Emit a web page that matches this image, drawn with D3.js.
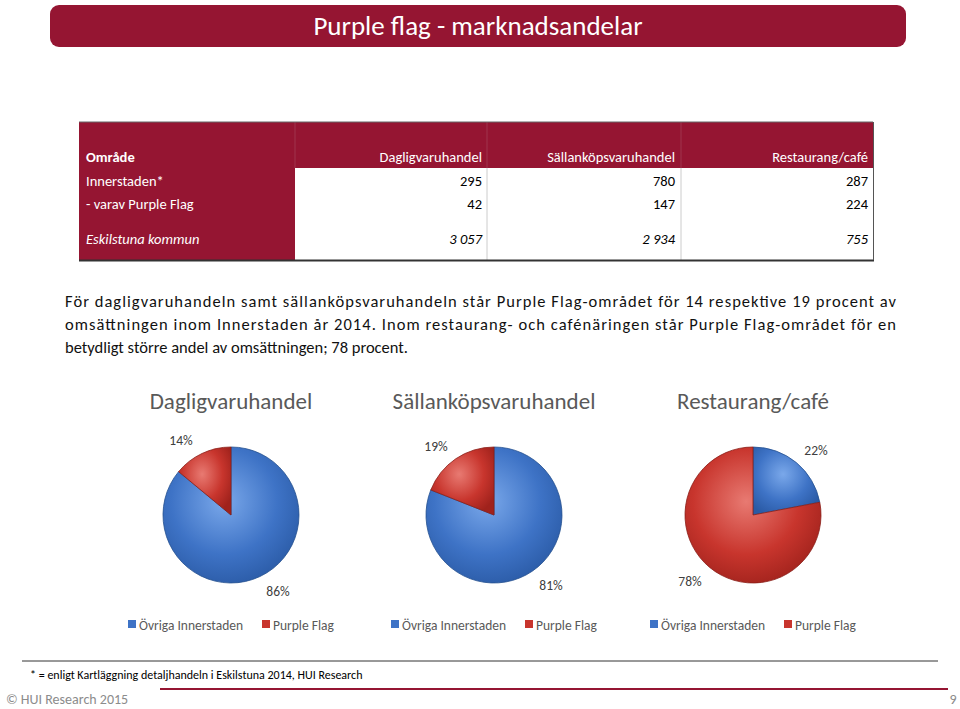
<!DOCTYPE html><html><head><meta charset="utf-8"><script src="https://cdn.jsdelivr.net/npm/d3@7"></script>
<style>body{margin:0;background:#fff}svg{font-family:Carlito,Lato,"Liberation Sans",sans-serif}</style></head><body><svg id="c" width="960" height="709"></svg>
<script>
const columns=["Dagligvaruhandel","Sällanköpsvaruhandel","Restaurang/café"];
const rowNames=["Innerstaden*","- varav Purple Flag","Eskilstuna kommun"];
const innerstaden=["295","780","287"];
const purpleFlag=["42","147","224"];
const kommun=["3 057","2 934","755"];
const pieOvriga=[86,81,22];
const piePurple=[14,19,78];
const legendLabels=["Övriga Innerstaden","Purple Flag"];
const paragraph=["För dagligvaruhandeln samt sällanköpsvaruhandeln står Purple Flag-området för 14 respektive 19 procent av","omsättningen inom Innerstaden år 2014. Inom restaurang- och cafénäringen står Purple Flag-området för en","betydligt större andel av omsättningen; 78 procent."];

const svg=d3.select("#c"), RED="#951532";
const defs=svg.append("defs");
[["gb","#7aa8ea","#3e73c6","#2a5aa5"],["gr","#e87a72","#c8352d","#a0221c"]].forEach(([id,a,b,c])=>{
 const g=defs.append("radialGradient").attr("id",id).attr("cx","45%").attr("cy","40%").attr("r","65%");
 g.append("stop").attr("offset","0%").attr("stop-color",a);g.append("stop").attr("offset","60%").attr("stop-color",b);g.append("stop").attr("offset","100%").attr("stop-color",c);});
svg.append("rect").attr("x",50).attr("y",5).attr("width",856).attr("height",42).attr("rx",9).attr("fill",RED);
svg.append("text").attr("x",478).attr("y",35).attr("text-anchor","middle").attr("fill","#fff").attr("font-size",27).attr("font-weight",300).text("Purple flag - marknadsandelar");

const colRight=[482,675,868];
svg.append("rect").attr("x",79).attr("y",122).attr("width",794).attr("height",138).attr("fill","#fff");
svg.append("rect").attr("x",79).attr("y",122).attr("width",216).attr("height",138).attr("fill",RED);
svg.append("rect").attr("x",79).attr("y",122).attr("width",794).attr("height",46).attr("fill",RED);
[487,681].forEach(x=>svg.append("line").attr("x1",x).attr("x2",x).attr("y1",168).attr("y2",260).attr("stroke","#ccc"));
[295,487,681].forEach(x=>svg.append("line").attr("x1",x).attr("x2",x).attr("y1",122).attr("y2",168).attr("stroke","#a94a5e").attr("stroke-width",0.6));
svg.append("line").attr("x1",79).attr("x2",873).attr("y1",122).attr("y2",122).attr("stroke","#666");
svg.append("line").attr("x1",79).attr("x2",874).attr("y1",260.5).attr("y2",260.5).attr("stroke","#333").attr("stroke-width",2);
svg.append("line").attr("x1",873.5).attr("x2",873.5).attr("y1",122).attr("y2",260).attr("stroke","#555");
const fs=14.5;
svg.append("text").attr("x",86).attr("y",162).attr("fill","#fff").attr("font-weight","bold").attr("font-size",fs).text("Område");
columns.forEach((c,i)=>svg.append("text").attr("x",colRight[i]).attr("y",162).attr("text-anchor","end").attr("fill","#fff").attr("font-size",fs).text(c));
const rowY=[186,209,244];
[innerstaden,purpleFlag,kommun].forEach((vals,r)=>{
 svg.append("text").attr("x",86).attr("y",rowY[r]).attr("fill","#fff").attr("font-size",fs).attr("font-style",r==2?"italic":null).text(rowNames[r]);
 vals.forEach((v,i)=>svg.append("text").attr("x",colRight[i]).attr("y",rowY[r]).attr("text-anchor","end").attr("fill","#000").attr("font-size",fs).attr("font-style",r==2?"italic":null).text(v));
});

paragraph.forEach((l,i)=>{const t=svg.append("text").attr("x",65).attr("y",307+i*23).attr("font-size",16.5).attr("fill","#111").text(l);
 if(i<2)t.attr("textLength",831).attr("lengthAdjust","spacing");});

const cx=[231,494,753];
const pie=d3.pie().sort(null).value(d=>d), arc=d3.arc().innerRadius(0).outerRadius(68);
const lab=[[[278,596],[181,445]],[[551,590],[436,451]],[[816,455],[690,586]]];
cx.forEach((x,k)=>{
 svg.append("text").attr("x",x).attr("y",409).attr("text-anchor","middle").attr("fill","#595959").attr("font-size",23).text(columns[k]);
 const g=svg.append("g").attr("transform",`translate(${x},515)`);
 g.selectAll("path").data(pie([pieOvriga[k],piePurple[k]])).join("path").attr("d",arc)
  .attr("fill",(d,i)=>i?"url(#gr)":"url(#gb)").attr("stroke",(d,i)=>i?"#8a1e18":"#24508f").attr("stroke-width",0.8);
 [pieOvriga[k],piePurple[k]].forEach((v,i)=>svg.append("text").attr("x",lab[k][i][0]).attr("y",lab[k][i][1]).attr("text-anchor","middle").attr("fill","#404040").attr("font-size",13.5).text(v+"%"));
 const lx=x-103;
 legendLabels.forEach((t,i)=>{const ox=lx+i*134;
  svg.append("rect").attr("x",ox).attr("y",620).attr("width",8).attr("height",8).attr("fill",i?"#c8352d":"#3e73c6");
  svg.append("text").attr("x",ox+11).attr("y",630).attr("fill","#595959").attr("font-size",13.5).text(t);});
});

svg.append("line").attr("x1",22).attr("x2",938).attr("y1",661).attr("y2",661).attr("stroke","#333");
svg.append("text").attr("x",30).attr("y",679).attr("font-size",12).attr("fill","#000").text("* = enligt Kartläggning detaljhandeln i Eskilstuna 2014, HUI Research");
svg.append("line").attr("x1",160).attr("x2",948).attr("y1",689).attr("y2",689).attr("stroke",RED).attr("stroke-width",2);
svg.append("text").attr("x",6).attr("y",704).attr("font-size",14).attr("fill","#8c8c8c").text("© HUI Research 2015");
svg.append("text").attr("x",953).attr("y",704).attr("font-size",14).attr("fill","#8c8c8c").attr("text-anchor","middle").text("9");
</script></body></html>
